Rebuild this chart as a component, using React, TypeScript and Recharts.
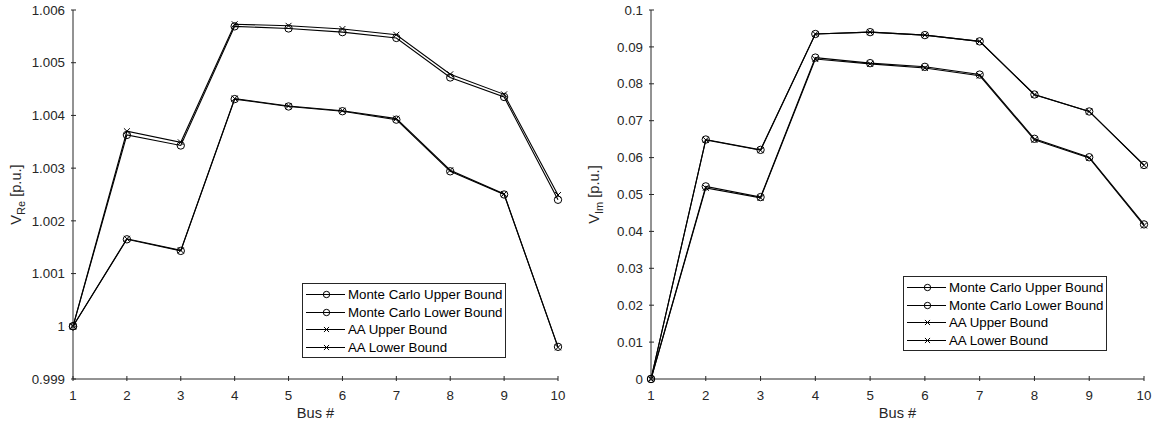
import { LineChart, Line, XAxis, YAxis, Legend } from 'recharts';

const AXIS = '#262626';
const FONT = '"Liberation Sans", Arial, Helvetica, sans-serif';

// bus numbers along x
const buses = [1, 2, 3, 4, 5, 6, 7, 8, 9, 10];

// real part of voltage [p.u.]
const reMcUpper = [1.0, 1.00363, 1.00343, 1.00569, 1.00565, 1.00558, 1.00547, 1.00472, 1.00435, 1.0024];
const reMcLower = [1.0, 1.00165, 1.00143, 1.00431, 1.00417, 1.00408, 1.00392, 1.00294, 1.0025, 0.99961];
const reAaUpper = [1.0, 1.0037, 1.00349, 1.00573, 1.0057, 1.00564, 1.00553, 1.00478, 1.0044, 1.00249];
const reAaLower = [1.0, 1.00166, 1.00144, 1.00432, 1.00418, 1.00409, 1.00394, 1.00296, 1.00251, 0.9996];
const reTicks = [0.999, 1.0, 1.001, 1.002, 1.003, 1.004, 1.005, 1.006];

// imaginary part of voltage [p.u.]
const imMcUpper = [0, 0.0649, 0.0621, 0.0935, 0.094, 0.0932, 0.0915, 0.0771, 0.0725, 0.058];
const imMcLower = [0, 0.0522, 0.0493, 0.0871, 0.0856, 0.0846, 0.0825, 0.0651, 0.0601, 0.0419];
const imAaUpper = [0, 0.0648, 0.062, 0.0935, 0.094, 0.0932, 0.0915, 0.077, 0.0725, 0.0579];
const imAaLower = [0, 0.0518, 0.0491, 0.0867, 0.0854, 0.0843, 0.0822, 0.0648, 0.0599, 0.0416];
const imTicks = [0, 0.01, 0.02, 0.03, 0.04, 0.05, 0.06, 0.07, 0.08, 0.09, 0.1];

const seriesNames = ['Monte Carlo Upper Bound', 'Monte Carlo Lower Bound', 'AA Upper Bound', 'AA Lower Bound'];
const seriesMarkers = ['o', 'o', 'x', 'x'];

const buildRows = (s: number[][]) =>
  buses.map((bus, i) => ({ bus, s0: s[0][i], s1: s[1][i], s2: s[2][i], s3: s[3][i] }));

const reData = buildRows([reMcUpper, reMcLower, reAaUpper, reAaLower]);
const imData = buildRows([imMcUpper, imMcLower, imAaUpper, imAaLower]);

const fmt3 = (v: number) => String(Number(v.toFixed(3)));
const fmt2 = (v: number) => String(Number(v.toFixed(2)));

const TICK_LEN = 5;
const TICK_FS = 13.3;

const BottomTick = (p: any) => (
  <g>
    <line x1={p.x} x2={p.x} y1={p.y} y2={p.y - TICK_LEN} stroke={AXIS} strokeWidth={1} />
    <text x={p.x} y={p.y + 19} textAnchor="middle" fill={AXIS} fontSize={TICK_FS} fontFamily={FONT}>
      {p.payload.value}
    </text>
  </g>
);

const TopTick = (p: any) => (
  <line x1={p.x} x2={p.x} y1={p.y} y2={p.y + TICK_LEN} stroke={AXIS} strokeWidth={1} />
);

const makeLeftTick = (fmt: (v: number) => string) => (p: any) => (
  <g>
    <line x1={p.x} x2={p.x + TICK_LEN} y1={p.y} y2={p.y} stroke={AXIS} strokeWidth={1} />
    <text x={p.x - 6} y={p.y} dy="0.35em" textAnchor="end" fill={AXIS} fontSize={TICK_FS} fontFamily={FONT}>
      {fmt(p.payload.value)}
    </text>
  </g>
);

const RightTick = (p: any) => (
  <line x1={p.x} x2={p.x - TICK_LEN} y1={p.y} y2={p.y} stroke={AXIS} strokeWidth={1} />
);

const Marker = ({ kind, cx, cy, r }: { kind: string; cx: number; cy: number; r: number }) =>
  kind === 'o' ? (
    <circle cx={cx} cy={cy} r={r} fill="none" stroke="#000" strokeWidth={1} />
  ) : (
    <path
      d={`M${cx - r * 0.8},${cy - r * 0.8}L${cx + r * 0.8},${cy + r * 0.8}M${cx - r * 0.8},${cy + r * 0.8}L${cx + r * 0.8},${cy - r * 0.8}`}
      stroke="#000"
      strokeWidth={1}
    />
  );

const makeDot = (kind: string) => (p: any) => {
  if (p.cx == null || p.cy == null) return <g key={p.index} />;
  return (
    <g key={p.index}>
      <Marker kind={kind} cx={p.cx} cy={p.cy} r={3.7} />
    </g>
  );
};

const LegendBox = () => (
  <div
    style={{
      border: `1px solid ${AXIS}`,
      background: '#fff',
      padding: '2px 0 1px 0',
      width: 204,
      boxSizing: 'border-box',
      fontFamily: FONT,
      fontSize: TICK_FS,
      color: '#000',
    }}
  >
    {seriesNames.map((name, i) => (
      <div key={name} style={{ display: 'flex', alignItems: 'center', height: 17.6 }}>
        <svg width={45} height={17} style={{ flexShrink: 0, display: 'block' }}>
          <line x1={3} x2={42} y1={8.5} y2={8.5} stroke="#000" strokeWidth={1} />
          <Marker kind={seriesMarkers[i]} cx={23.5} cy={8.5} r={3.2} />
        </svg>
        <span style={{ whiteSpace: 'nowrap', lineHeight: '17px' }}>{name}</span>
      </div>
    ))}
  </div>
);

interface PanelProps {
  data: any[];
  domain: [number, number];
  ticks: number[];
  fmt: (v: number) => string;
  sub: string;
  width: number;
  plotRight: number;
  legendLeft: number;
  legendTop: number;
}

const Panel = ({ data, domain, ticks, fmt, sub, width, plotRight, legendLeft, legendTop }: PanelProps) => {
  const leftTick = makeLeftTick(fmt);
  return (
    <LineChart
      width={width}
      height={428}
      data={data}
      margin={{ top: 10, right: width - plotRight, bottom: 0, left: 0 }}
    >
      <XAxis
        xAxisId="b"
        dataKey="bus"
        type="number"
        domain={[1, 10]}
        ticks={buses}
        interval={0}
        height={49}
        tickSize={0}
        tickLine={false}
        axisLine={{ stroke: AXIS, strokeWidth: 1 }}
        tick={BottomTick}
        label={{
          content: (lp: any) => {
            const vb = lp.viewBox || { x: 73, y: 379, width: 485 };
            return (
              <text x={vb.x + vb.width / 2} y={vb.y + 39} textAnchor="middle" fill={AXIS} fontSize={14.6} fontFamily={FONT}>
                Bus #
              </text>
            );
          },
        }}
      />
      <XAxis
        xAxisId="t"
        orientation="top"
        dataKey="bus"
        type="number"
        domain={[1, 10]}
        ticks={buses}
        interval={0}
        height={0}
        tickSize={0}
        tickLine={false}
        axisLine={{ stroke: AXIS, strokeWidth: 1 }}
        tick={TopTick}
      />
      <YAxis
        yAxisId="l"
        type="number"
        domain={domain}
        ticks={ticks}
        interval={0}
        width={73}
        tickSize={0}
        tickLine={false}
        axisLine={{ stroke: AXIS, strokeWidth: 1 }}
        tick={leftTick}
        label={{
          content: (lp: any) => {
            const vb = lp.viewBox || { x: 0, y: 10, height: 369 };
            const cx = vb.x + 21;
            const cy = vb.y + vb.height / 2;
            return (
              <text
                x={cx}
                y={cy}
                transform={`rotate(-90, ${cx}, ${cy})`}
                textAnchor="middle"
                fill={AXIS}
                fontSize={14.6}
                fontFamily={FONT}
              >
                V
                <tspan dy={4} fontSize={11}>
                  {sub}
                </tspan>
                <tspan dy={-4}> [p.u.]</tspan>
              </text>
            );
          },
        }}
      />
      <YAxis
        yAxisId="r"
        orientation="right"
        type="number"
        domain={domain}
        ticks={ticks}
        interval={0}
        width={0}
        tickSize={0}
        tickLine={false}
        axisLine={{ stroke: AXIS, strokeWidth: 1 }}
        tick={RightTick}
      />
      {['s0', 's1', 's2', 's3'].map((key, i) => (
        <Line
          key={key}
          xAxisId="b"
          yAxisId="l"
          dataKey={key}
          name={seriesNames[i]}
          type="linear"
          stroke="#000"
          strokeWidth={1.1}
          dot={makeDot(seriesMarkers[i])}
          activeDot={false}
          isAnimationActive={false}
        />
      ))}
      <Legend
        layout="horizontal"
        verticalAlign="middle"
        align="center"
        content={() => <LegendBox />}
        wrapperStyle={{ left: legendLeft, top: legendTop, width: 204, height: 'auto' }}
      />
    </LineChart>
  );
};

export default function App() {
  return (
    <div
      style={{
        position: 'absolute',
        left: 0,
        top: 0,
        width: 1160,
        height: 428,
        background: '#fff',
        display: 'flex',
      }}
    >
      <Panel
        data={reData}
        domain={[0.999, 1.006]}
        ticks={reTicks}
        fmt={fmt3}
        sub="Re"
        width={578}
        plotRight={558}
        legendLeft={302}
        legendTop={283}
      />
      <Panel
        data={imData}
        domain={[0, 0.1]}
        ticks={imTicks}
        fmt={fmt2}
        sub="Im"
        width={582}
        plotRight={566}
        legendLeft={325}
        legendTop={276}
      />
    </div>
  );
}
